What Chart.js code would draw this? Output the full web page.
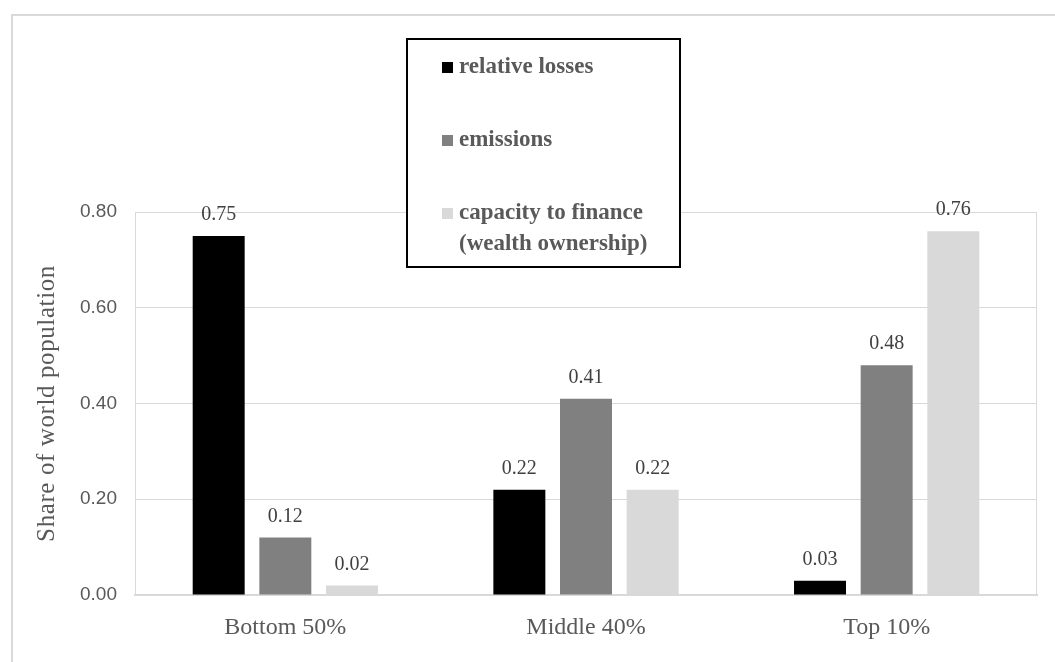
<!DOCTYPE html>
<html>
<head>
<meta charset="utf-8">
<script src="https://cdn.jsdelivr.net/npm/chart.js@4"></script>
<style>
  html, body { margin: 0; padding: 0; background: #fff; }
  #wrap { width: 1055px; height: 662px; }
</style>
</head>
<body>
<div id="wrap"><canvas id="grafico" width="1055" height="662"></canvas></div>
<script>
const categorias = ['Bottom 50%', 'Middle 40%', 'Top 10%'];
const perdasRelativas = [0.75, 0.22, 0.03];
const emissoes = [0.12, 0.41, 0.48];
const capacidadeFinanciar = [0.02, 0.22, 0.76];
const nomesSeries = ['relative losses', 'emissions', ['capacity to finance', '(wealth ownership)']];
const coresSeries = ['#000000', '#808080', '#d9d9d9'];
const tituloY = 'Share of world population';

const serif = '"Liberation Serif", "Times New Roman", serif';
const sans = '"Liberation Sans", Arial, sans-serif';

// moldura externa, borda da área do gráfico, rótulos e legenda
const extras = {
  id: 'extras',
  beforeDraw(chart) {
    const ctx = chart.ctx;
    ctx.save();
    ctx.fillStyle = '#fff';
    ctx.fillRect(0, 0, chart.width, chart.height);
    ctx.strokeStyle = '#d9d9d9';
    ctx.lineWidth = 2;
    ctx.beginPath();
    ctx.moveTo(12, chart.height + 5);
    ctx.lineTo(12, 15);
    ctx.lineTo(chart.width + 5, 15);
    ctx.stroke();
    ctx.restore();
  },
  afterDatasetsDraw(chart) {
    const ctx = chart.ctx;
    const a = chart.chartArea;
    ctx.save();
    ctx.strokeStyle = '#d9d9d9';
    ctx.lineWidth = 1;
    ctx.strokeRect(a.left + 0.5, a.top + 0.5, a.right - a.left - 1, a.bottom - a.top);

    // valores sobre as barras
    ctx.font = '20px ' + serif;
    ctx.fillStyle = '#404040';
    ctx.textAlign = 'center';
    ctx.textBaseline = 'bottom';
    chart.data.datasets.forEach((ds, i) => {
      chart.getDatasetMeta(i).data.forEach((bar, j) => {
        ctx.fillText(ds.data[j].toFixed(2), bar.x, bar.y - 11);
      });
    });

    // rótulos das categorias
    const xs = chart.scales.x;
    ctx.font = '24px ' + serif;
    ctx.fillStyle = '#595959';
    ctx.textBaseline = 'middle';
    categorias.forEach((c, i) => ctx.fillText(c, xs.getPixelForValue(i), 628));

    // título do eixo y
    ctx.save();
    ctx.translate(47, (a.top + a.bottom) / 2);
    ctx.rotate(-Math.PI / 2);
    ctx.font = '25px ' + serif;
    ctx.letterSpacing = '0.6px';
    ctx.fillText(tituloY, 0, 0);
    ctx.restore();

    // legenda em caixa
    const bx = 407, by = 39, bw = 273, bh = 228;
    ctx.fillStyle = '#fff';
    ctx.fillRect(bx, by, bw, bh);
    ctx.strokeStyle = '#000';
    ctx.lineWidth = 2;
    ctx.strokeRect(bx, by, bw, bh);
    ctx.font = 'bold 23px ' + serif;
    ctx.textAlign = 'left';
    ctx.textBaseline = 'middle';
    const ys = [67, 140, 213];
    nomesSeries.forEach((nome, i) => {
      ctx.fillStyle = coresSeries[i];
      ctx.fillRect(442, ys[i] - 5, 11, 11);
      ctx.fillStyle = '#595959';
      const linhas = Array.isArray(nome) ? nome : [nome];
      linhas.forEach((l, k) => ctx.fillText(l, 459, ys[i] + k * 31));
    });
    ctx.restore();
  }
};

new Chart(document.getElementById('grafico'), {
  type: 'bar',
  data: {
    labels: categorias,
    datasets: [
      { label: 'relative losses', data: perdasRelativas, backgroundColor: coresSeries[0] },
      { label: 'emissions', data: emissoes, backgroundColor: coresSeries[1] },
      { label: 'capacity to finance (wealth ownership)', data: capacidadeFinanciar, backgroundColor: coresSeries[2] }
    ]
  },
  options: {
    responsive: false,
    animation: false,
    events: [],
    categoryPercentage: 0.665,
    barPercentage: 0.78,
    layout: { padding: { top: 212, right: 18, left: 0, bottom: 0 } },
    plugins: {
      legend: { display: false },
      tooltip: { enabled: false }
    },
    scales: {
      x: {
        grid: { display: false },
        border: { display: true, color: '#d9d9d9', width: 2 },
        ticks: { display: false },
        afterFit(scale) { scale.height = 67; }
      },
      y: {
        min: 0,
        max: 0.8,
        ticks: {
          stepSize: 0.2,
          font: { family: sans, size: 19 },
          color: '#595959',
          padding: 18,
          callback: v => v.toFixed(2)
        },
        grid: { color: '#d9d9d9', drawTicks: false },
        border: { display: false },
        afterFit(scale) { scale.width = 135; }
      }
    }
  },
  plugins: [extras]
});
</script>
</body>
</html>
